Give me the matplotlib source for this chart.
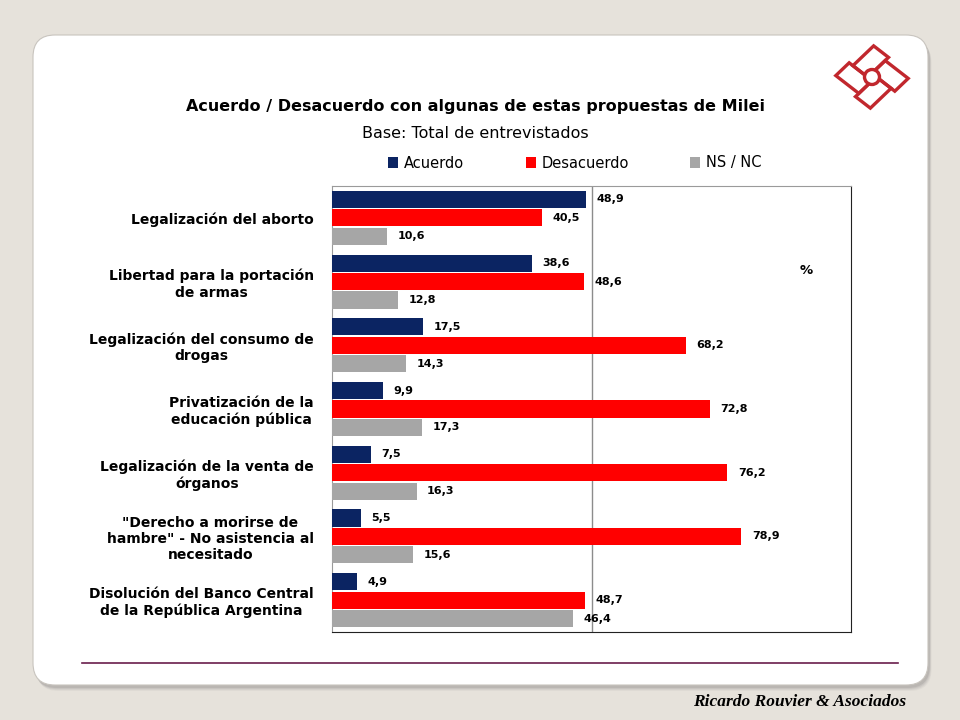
import matplotlib
matplotlib.use("Agg")
import matplotlib.pyplot as plt
import numpy as np
from matplotlib.patches import FancyBboxPatch, Rectangle, Circle
from matplotlib import transforms

categories = [
    "Legalización del aborto",
    "Libertad para la portación\nde armas",
    "Legalización del consumo de\ndrogas",
    "Privatización de la\neducación pública",
    "Legalización de la venta de\nórganos",
    "\"Derecho a morirse de\nhambre\" - No asistencia al\nnecesitado",
    "Disolución del Banco Central\nde la República Argentina",
]
series_names = ["Acuerdo", "Desacuerdo", "NS / NC"]
acuerdo = [48.9, 38.6, 17.5, 9.9, 7.5, 5.5, 4.9]
desacuerdo = [40.5, 48.6, 68.2, 72.8, 76.2, 78.9, 48.7]
nsnc = [10.6, 12.8, 14.3, 17.3, 16.3, 15.6, 46.4]
colors = ["#0B2462", "#FF0000", "#A6A6A6"]

W, H = 960, 720
fig = plt.figure(figsize=(9.6, 7.2), dpi=100)
fig.patch.set_facecolor("#E6E2DB")

# background overlay in pixel coords
bg = fig.add_axes([0, 0, 1, 1], zorder=0)
bg.set_xlim(0, W)
bg.set_ylim(H, 0)
bg.axis("off")

# card shadow
for i, a in enumerate([0.05, 0.07, 0.09, 0.12]):
    off = 6 - i
    bg.add_patch(FancyBboxPatch((33 + off * 0.6, 35 + off), 895, 650,
                                boxstyle="round,pad=0,rounding_size=22",
                                fc="#555555", ec="none", alpha=a))
bg.add_patch(FancyBboxPatch((33, 35), 895, 650,
                            boxstyle="round,pad=0,rounding_size=22",
                            fc="white", ec="#C8C4BE", lw=0.8))

# footer line
bg.plot([82, 898], [663, 663], color="#6A1E4C", lw=1.2)
bg.text(906, 702, "Ricardo Rouvier & Asociados", ha="right", va="center",
        fontsize=12.5, fontweight="bold", fontstyle="italic",
        family="Liberation Serif", color="black")

# logo (four overlapping rectangles with a circle)
lc = "#C1272D"
cx, cy = 872, 77
L, S = 31, 20
d = 3
logo_t = transforms.Affine2D().rotate_deg(42).scale(1, 0.86).translate(cx, cy) + bg.transData
rects = [(-d, -d - S, L, S), (d, -d, S, L), (d - L, d, L, S), (-d - S, d - L, S, L)]
for (x0, y0, w, hh) in rects:
    r = Rectangle((x0, y0), w, hh, fc="none", ec=lc, lw=2.4)
    r.set_transform(logo_t)
    bg.add_patch(r)
bg.add_patch(Circle((cx, cy), 7.5, fc="white", ec=lc, lw=2.4, zorder=5))

# titles
fig.text(475, H - 107, "Acuerdo / Desacuerdo con algunas de estas propuestas de Milei",
         transform=None, ha="center", va="center", fontsize=11.5, fontweight="bold",
         family="DejaVu Sans")
fig.text(475, H - 134, "Base: Total de entrevistados", transform=None,
         ha="center", va="center", fontsize=11.5, family="DejaVu Sans")

# chart axes
ax = fig.add_axes([332 / W, 1 - 632 / H, (851 - 332) / W, (632 - 186) / H], zorder=2)
y = np.arange(len(categories))
step = 0.289
h = 0.268
for k, (vals, c) in enumerate(zip([acuerdo, desacuerdo, nsnc], colors)):
    pos = y + (k - 1) * step
    ax.barh(pos, vals, height=h, color=c, label=series_names[k], zorder=3)
    for p, v in zip(pos, vals):
        ax.annotate(f"{v:.1f}".replace(".", ","), (v, p), xytext=(7.5, 0),
                    textcoords="offset points", ha="left", va="center",
                    fontsize=8, fontweight="bold", zorder=4)

ax.set_xlim(0, 100)
ax.set_ylim(len(categories) - 0.5, -0.5)
ax.axvline(50, color="#8C8C8C", lw=1, zorder=2)
ax.set_xticks([])
ax.set_yticks(y)
ax.set_yticklabels(categories, fontsize=10, fontweight="bold", ma="center")
ax.tick_params(axis="y", length=0, pad=13)
for side in ["top", "left"]:
    ax.spines[side].set_color("#9A9A9A")
for side in ["bottom", "right"]:
    ax.spines[side].set_color("#222222")
ax.text(806, H - 270, "%", transform=None, ha="center", va="center",
        fontsize=9.5, fontweight="bold")

# legend
leg = fig.legend(handles=ax.containers, labels=series_names, loc="center",
                 bbox_to_anchor=(575 / W, 1 - 163 / H), ncol=3, frameon=False,
                 fontsize=10.5, handlelength=0.7, handleheight=0.7,
                 handletextpad=0.4, columnspacing=4.2)

fig.savefig("out.png", dpi=100, facecolor=fig.get_facecolor())
